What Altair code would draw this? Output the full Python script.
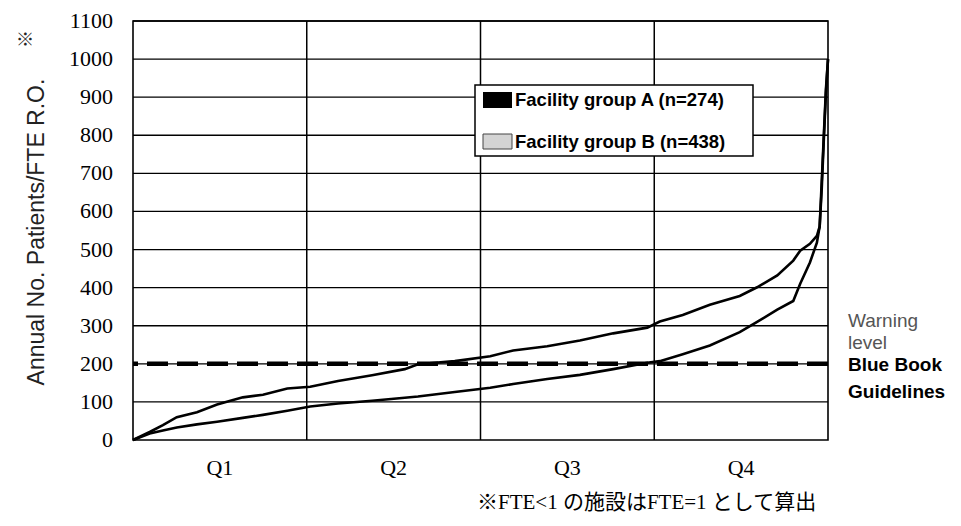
import altair as alt
import pandas as pd

# ---- data ----
pct = [0, 2.4, 4.3, 6.3, 9.2, 12.1, 15.8, 18.7, 22.2, 25.5, 29.5, 34.4, 39.1, 41.0,
       46.3, 51.4, 54.7, 59.6, 64.3, 69.1, 74.0, 75.8, 79.1, 83.0, 87.3, 89.8, 92.7,
       95.0, 96.0, 97.4, 98.4, 98.8, 99.1, 99.4, 99.7, 100]
upper_vals = [0, 21, 39, 60, 73, 93, 112, 119, 135, 140, 155, 170, 186, 199,
              207, 220, 235, 246, 261, 280, 295, 311, 328, 355, 378, 401, 432,
              471, 497, 515, 536, 560, 680, 800, 920, 1000]
lower_vals = [0, 17, 25, 33, 41, 48, 58, 66, 77, 88, 96, 103, 111, 114,
              126, 137, 147, 160, 171, 186, 203, 207, 225, 248, 283, 310, 342,
              365, 410, 466, 518, 561, 660, 790, 910, 1000]

grid_vals = [100, 200, 300, 400, 500, 600, 700, 800, 900, 1000, 1100]
tick_vals = [0, 100, 200, 300, 400, 500, 600, 700, 800, 900, 1000, 1100]
tick_labels = [str(v) for v in tick_vals]
quartile_bounds = [25, 50, 75]
q_labels = ["Q1", "Q2", "Q3", "Q4"]
q_centers = [12.5, 37.5, 62.5, 87.5]
guideline = [200]

curves = pd.DataFrame(
    {"pct": pct * 2,
     "value": upper_vals + lower_vals,
     "curve": ["upper"] * len(pct) + ["lower"] * len(pct)}
)

W, H = 695, 419
TOP = 13
xs = alt.Scale(domain=[0, 100], nice=False, zero=False)
ys = alt.Scale(domain=[0, 1100], nice=False)

one = pd.DataFrame({"k": [0]})

grid = alt.Chart(pd.DataFrame({"v": grid_vals})).mark_rule(
    color="black", strokeWidth=1.3
).encode(y=alt.Y("v:Q", scale=ys, axis=None))

ylabels = alt.Chart(pd.DataFrame({"v": tick_vals, "t": tick_labels})).mark_text(
    font="Liberation Serif", fontSize=22, color="black", align="right", baseline="middle"
).encode(y=alt.Y("v:Q", scale=ys, axis=None), x=alt.value(-20), text="t:N")

vlines = alt.Chart(pd.DataFrame({"q": quartile_bounds})).mark_rule(
    color="black", strokeWidth=1.5
).encode(x=alt.X("q:Q", scale=xs, axis=None))

dashed = alt.Chart(pd.DataFrame({"v": guideline})).mark_rule(
    color="black", strokeWidth=4.5, strokeDash=[21, 9]
).encode(y=alt.Y("v:Q", scale=ys, axis=None))

lines = alt.Chart(curves).mark_line(color="black", strokeWidth=2.6, interpolate="linear").encode(
    x=alt.X("pct:Q", scale=xs, axis=None),
    y=alt.Y("value:Q", scale=ys, axis=None),
    detail="curve:N",
)

qtext = alt.Chart(pd.DataFrame({"label": q_labels, "pos": q_centers})).mark_text(
    font="Liberation Serif", fontSize=22, color="black", baseline="middle"
).encode(x=alt.X("pos:Q", scale=xs, axis=None), y=alt.value(468 - 8 - TOP), text="label:N")


def txt(s, x, y, **kw):
    props = dict(font="Liberation Sans", fontSize=19, color="black",
                 align="left", baseline="middle")
    props.update(kw)
    return alt.Chart(one).mark_text(**props).encode(
        x=alt.value(x), y=alt.value(y - 8 - TOP), text=alt.value(s))


def box(x1, x2, y1, y2, **kw):
    return alt.Chart(one).mark_rect(**kw).encode(
        x=alt.value(x1), x2=alt.value(x2),
        y=alt.value(y1 - 8 - TOP), y2=alt.value(y2 - 8 - TOP))


legend_box = box(342, 620, 85, 156, fill="white", stroke="black", strokeWidth=1.5)
sym_a = box(350, 379, 92, 108, fill="black")
sym_b = box(350, 379, 134, 149, fill="#d4d4d4", stroke="#444", strokeWidth=1)

texts = [
    txt("Facility group A (n=274)", 382, 100, fontSize=18.5, fontWeight="bold"),
    txt("Facility group B (n=438)", 382, 142, fontSize=18.5, fontWeight="bold"),
    txt("Warning", 715, 321, color="#555555"),
    txt("level", 715, 343, color="#555555"),
    txt("Blue Book", 715, 365, fontWeight="bold"),
    txt("Guidelines", 715, 392, fontWeight="bold"),
    txt("Annual No. Patients/FTE R.O.", -96, 232, fontSize=23, angle=270,
        align="center", color="#222222"),
    txt("※", -106, 39, fontSize=18, angle=270, align="center",
        font="Noto Sans CJK JP", color="#222222"),
    txt("※FTE<1 の施設はFTE=1 として算出", 344, 503, fontSize=21,
        font="Liberation Serif, Noto Sans CJK JP"),
]

chart = alt.layer(grid, ylabels, vlines, dashed, lines, legend_box, sym_a, sym_b, qtext, *texts).properties(
    width=W, height=H,
    autosize=alt.AutoSizeParams(type="none"),
    padding={"left": 125, "top": TOP, "right": 125, "bottom": 510 - TOP - H},
    background="white",
).configure_view(stroke="black", strokeWidth=1.6)

chart.save("out.html", embed_options={"renderer": "svg", "actions": False})
